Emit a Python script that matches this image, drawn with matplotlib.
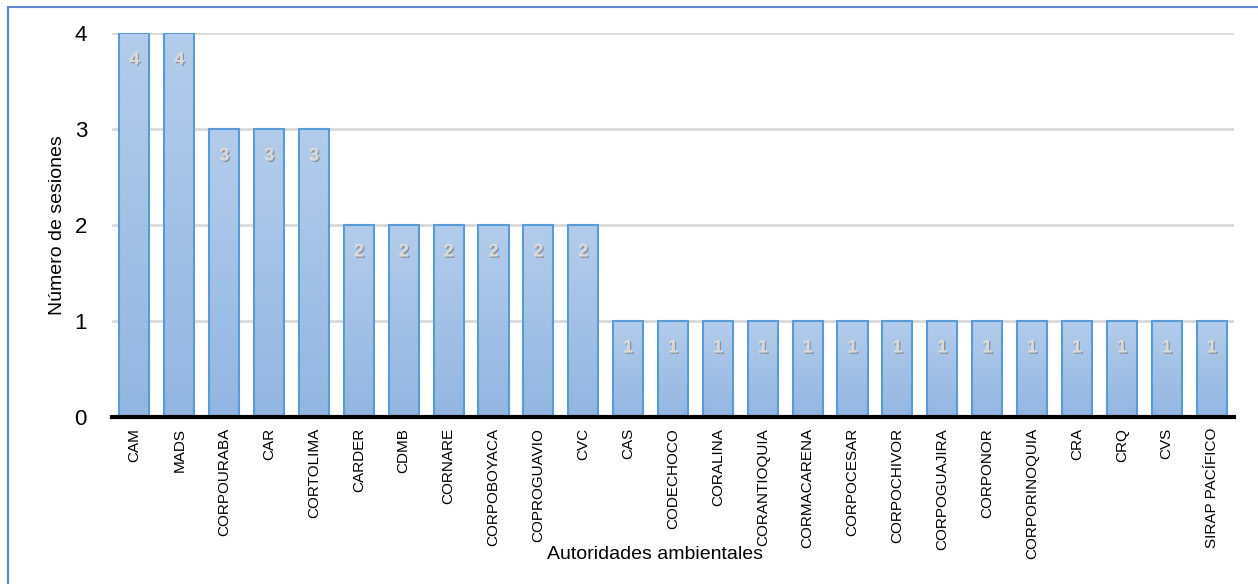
import matplotlib.pyplot as plt
import matplotlib.patheffects as pe
import numpy as np
from matplotlib import font_manager
from matplotlib.patches import Rectangle
from matplotlib.colors import LinearSegmentedColormap

plt.rcParams['font.family'] = ['Liberation Sans', 'DejaVu Sans']

autoridades = ['CAM', 'MADS', 'CORPOURABA', 'CAR', 'CORTOLIMA', 'CARDER', 'CDMB',
               'CORNARE', 'CORPOBOYACA', 'COPROGUAVIO', 'CVC', 'CAS', 'CODECHOCO',
               'CORALINA', 'CORANTIOQUIA', 'CORMACARENA', 'CORPOCESAR', 'CORPOCHIVOR',
               'CORPOGUAJIRA', 'CORPONOR', 'CORPORINOQUIA', 'CRA', 'CRQ', 'CVS',
               'SIRAP PACÍFICO']
sesiones = [4, 4, 3, 3, 3, 2, 2, 2, 2, 2, 2, 1, 1, 1, 1, 1, 1, 1, 1, 1, 1, 1, 1, 1, 1]

# fuente estrecha para las etiquetas del eje x si existe
nombres = {f.name for f in font_manager.fontManager.ttflist}
if 'Liberation Sans Narrow' in nombres:
    tick_font, tick_size = ['Liberation Sans Narrow', 'DejaVu Sans'], 13
else:
    tick_font, tick_size = ['Liberation Sans', 'DejaVu Sans'], 11

W, H = 1258, 584
fig = plt.figure(figsize=(W / 100, H / 100), dpi=100)
fig.patches.append(Rectangle((8 / W, -0.1), 1.2, 1 - 7 / H + 0.1,
                             transform=fig.transFigure, fill=False,
                             edgecolor='#5F85CC', linewidth=1.5))
ax_l, ax_r, ax_t, ax_b = 112, 1234, 33, 417
ax = fig.add_axes([ax_l / W, 1 - ax_b / H, (ax_r - ax_l) / W, (ax_b - ax_t) / H])

x = np.arange(len(autoridades))
bars = ax.bar(x, sesiones, width=0.67, color='none', edgecolor='#5B9BD5',
              linewidth=1.5, zorder=3)

# degradado vertical dentro de cada barra
cmap = LinearSegmentedColormap.from_list('g', ['#93B6E2', '#B3CCEB'])
grad = np.linspace(0, 1, 100).reshape(-1, 1)
for b in bars:
    x0, w, h = b.get_x(), b.get_width(), b.get_height()
    im = ax.imshow(grad, extent=[x0, x0 + w, 0, h], origin='lower', aspect='auto',
                   cmap=cmap, zorder=2)
    im.set_clip_path(b)

for xi, v in zip(x, sesiones):
    ax.text(xi, v - 0.28, str(v), ha='center', va='center', fontsize=13,
            fontweight='bold', color='#D9D9D9', zorder=4,
            path_effects=[pe.withSimplePatchShadow(offset=(1, -1), shadow_rgbFace='#6F6F6F', alpha=0.6),
                          pe.Normal()])

ax.set_xlim(-0.5, len(autoridades) - 0.5)
ax.set_ylim(0, 4)
ax.set_yticks([0, 1, 2, 3, 4])
ax.set_xticks(x)
ax.set_xticklabels(autoridades, rotation=90, fontsize=tick_size, family=tick_font)
ax.tick_params(axis='y', labelsize=16, length=0, pad=18)
ax.tick_params(axis='x', length=0, pad=8)
ax.grid(axis='y', color='#D9D9D9', linewidth=2, zorder=0)
ax.set_axisbelow(True)
for s in ['top', 'right', 'left']:
    ax.spines[s].set_visible(False)
ax.spines['bottom'].set_linewidth(3)
ax.spines['bottom'].set_zorder(5)

ax.set_ylabel('Número de sesiones', fontsize=14)
ax.yaxis.set_label_coords((66 - ax_l) / (ax_r - ax_l), 0.5)
ax.set_xlabel('Autoridades ambientales', fontsize=14)
ax.xaxis.set_label_coords((655 - ax_l) / (ax_r - ax_l), -(546 - ax_b) / (ax_b - ax_t))

fig.savefig('out.png', dpi=100)
